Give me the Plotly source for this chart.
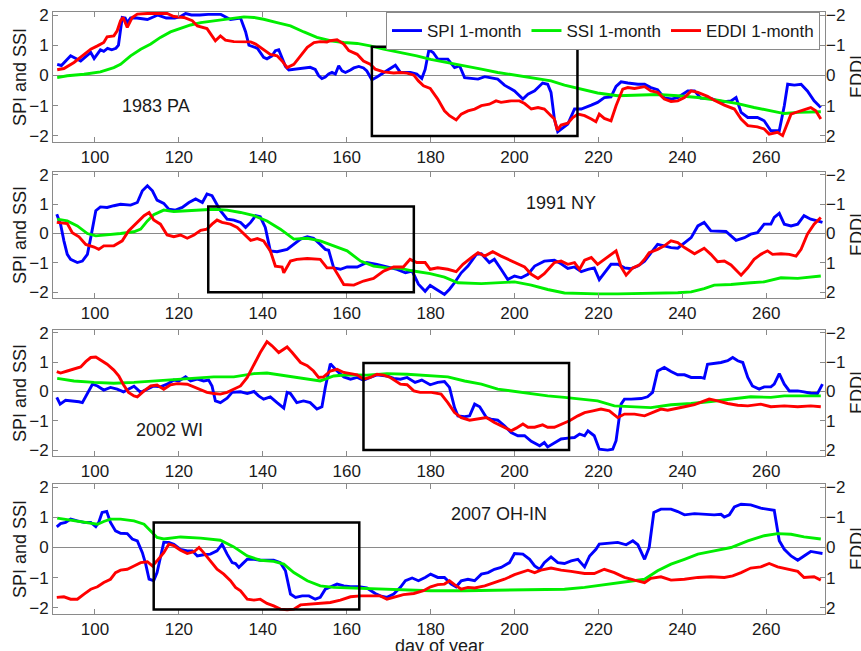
import plotly.graph_objects as go

# ---------------------------------------------------------------------------
# Drought-index series, (day of year, value). SPI and SSI read on the left
# axis; EDDI is in its own units and is drawn on a reversed right axis.
# ---------------------------------------------------------------------------

SPI_1983 = [(91,0.37),(92,0.33),(94.2,0.65),(95,0.6),(96.6,0.48),(99,0.76),(99.8,0.56),(101.3,0.85),(102.1,0.8),(103,0.9),(104,0.85),(105,0.9),(105.6,1.0),(106.5,1.92),(107.2,1.9),(107.7,1.75),(108.5,1.9),(110,1.9),(112.5,1.85),(115,2.0),(117,1.9),(119,1.9),(120.4,1.95),(121.6,2.05),(123,2.0),(125,2.0),(127,2.02),(130,2.02),(131.5,1.9),(132.3,1.85),(134.7,1.9),(135.9,1.45),(136.7,1.0),(137.9,0.95),(138.7,0.9),(140.2,0.6),(141,0.55),(142.2,0.65),(143,0.82),(143.8,0.85),(144.6,0.6),(145.4,0.3),(146.2,0.18),(147.4,0.2),(149,0.25),(151.3,0.27),(152.5,0.2),(153.3,0.0),(154.1,-0.1),(154.9,-0.05),(155.7,0.05),(156.5,0.1),(157.3,0.05),(158.1,0.32),(158.9,0.15),(159.7,0.1),(160.9,0.18),(161.7,0.25),(162.9,0.3),(164,0.25),(164.8,0.15),(166,-0.14),(167.2,-0.05),(168.8,0.1),(170,0.2),(171.6,0.34),(172.8,0.1),(175.2,0.1),(176.7,0.05),(177.9,-0.1),(178.7,0.2),(179.6,0.85),(180.6,0.76),(181.7,0.54),(184.1,0.54),(185.7,0.26),(186.9,0.32),(188.1,-0.07),(191.3,-0.12),(192.9,-0.04),(196,-0.12),(197.6,-0.32),(200,-0.51),(202,-0.78),(203.2,-0.62),(204.8,-0.51),(206.7,-0.25),(207.9,-0.29),(208.7,-0.56),(209.5,-1.44),(210.3,-1.86),(211.5,-1.72),(212.7,-1.61),(214.3,-1.11),(215.9,-1.11),(218.3,-0.98),(219.8,-0.89),(221.4,-0.73),(223,-0.71),(224.2,-0.36),(225.4,-0.21),(227,-0.25),(229.4,-0.29),(231,-0.29),(232.5,-0.4),(234.1,-0.47),(235.7,-0.74),(237.3,-0.78),(238.9,-0.73),(241.3,-0.51),(242.9,-0.51),(244.4,-0.75),(246.8,-0.76),(248.4,-0.84),(250,-0.87),(251.6,-0.84),(252.8,-0.73),(254,-1.22),(255.6,-1.39),(257.9,-1.39),(259.5,-1.5),(261.1,-1.83),(263.1,-1.83),(264.3,-1.0),(265.1,-0.29),(266.7,-0.32),(268.3,-0.29),(269.8,-0.51),(271.4,-0.84),(273,-1.06)]

SSI_1983 = [(91,-0.07),(93.4,-0.01),(97.4,0.04),(101.3,0.12),(104.5,0.26),(106.1,0.37),(108.5,0.65),(110.9,0.87),(113.3,1.04),(115.6,1.26),(118,1.44),(120.4,1.55),(122.8,1.67),(125.2,1.75),(128.3,1.81),(130.7,1.84),(133.1,1.91),(135.5,1.94),(137.9,1.92),(140.2,1.86),(143.4,1.75),(146.6,1.64),(149.8,1.44),(152.9,1.26),(156.1,1.15),(159.3,1.09),(162.5,1.06),(165.6,0.98),(168.8,0.87),(172.8,0.76),(176.7,0.65),(180,0.53),(184.1,0.43),(188.1,0.32),(192.1,0.21),(196,0.1),(200,0.01),(204,-0.09),(208.7,-0.18),(211.9,-0.32),(215.9,-0.45),(219.8,-0.58),(224.6,-0.67),(229.4,-0.65),(234.1,-0.63),(238.9,-0.67),(243.7,-0.73),(248.4,-0.82),(253.2,-0.93),(257.1,-1.06),(261.1,-1.17),(264.3,-1.26),(267.5,-1.22),(273,-1.2)]

EDDI_1983 = [(91,-0.19),(92.6,-0.23),(95,-0.43),(97.4,-0.7),(99,-0.87),(100.6,-0.98),(102.1,-1.09),(102.9,-1.28),(104.5,-1.31),(105.3,-1.48),(106.1,-1.81),(106.7,-1.92),(107.7,-1.59),(108.9,-1.92),(110.1,-2.03),(112.5,-2.05),(117.2,-2.05),(118.8,-1.95),(121.2,-1.92),(123.2,-1.81),(124.4,-1.64),(126.7,-1.55),(128.7,-1.15),(129.9,-1.31),(131.1,-1.17),(133.1,-1.12),(134.7,-1.12),(137.1,-1.11),(138.3,-1.04),(140.2,-0.87),(141.8,-0.7),(143.4,-0.65),(144.6,-0.48),(145.8,-0.26),(147.4,-0.37),(149,-0.65),(150.6,-0.93),(152.2,-1.09),(153.7,-1.12),(155.3,-1.11),(156.1,-1.15),(157.7,-1.18),(159.3,-1.04),(160.5,-0.82),(162.5,-0.7),(164,-0.48),(165.6,-0.37),(166.8,-0.21),(168.8,-0.12),(171.2,-0.08),(172.8,-0.1),(174.4,-0.08),(176,-0.01),(177.1,0.18),(178.3,0.34),(179.9,0.43),(181.7,0.78),(183.3,1.17),(184.5,1.33),(186.1,1.47),(187.3,1.28),(188.9,1.17),(190.5,1.11),(192.1,1.0),(194,0.95),(195.6,0.84),(196.8,0.89),(199.2,0.84),(201.2,0.84),(202.4,0.93),(204,1.11),(205.6,1.06),(207.1,1.11),(208.7,1.33),(209.5,1.44),(210.2,1.81),(211.1,1.64),(212.7,1.58),(213.9,1.39),(215.1,1.28),(216.7,1.33),(218.3,1.44),(219.4,1.53),(220.2,1.28),(221.4,1.42),(223,1.5),(224.2,1.0),(225.8,0.45),(227,0.4),(228.6,0.43),(231,0.37),(232.5,0.51),(234.1,0.56),(235.7,0.78),(237.3,0.86),(238.9,0.84),(240.5,0.73),(242.1,0.51),(243.7,0.56),(246,0.69),(247.6,0.82),(250,0.98),(252.4,1.11),(254,1.44),(255.6,1.66),(257.9,1.7),(259.5,1.77),(260.7,1.94),(262.7,1.88),(263.9,1.99),(265.9,1.28),(267.5,1.2),(270.6,1.06),(271.8,1.17),(273,1.44)]

SPI_1991 = [(90.9,0.66),(91.8,0.32),(92.6,-0.25),(93.4,-0.71),(94.2,-0.88),(95.8,-0.99),(97,-0.94),(98.2,-0.71),(99,-0.14),(100.2,0.78),(101.3,0.91),(102.9,0.89),(104.5,0.95),(106.1,1.0),(108.5,0.97),(110.1,1.06),(111.3,1.46),(112.5,1.63),(113.7,1.46),(114.8,1.14),(116.4,1.03),(117.6,0.83),(119.2,0.8),(120.8,0.89),(122.4,1.06),(124,1.18),(125.6,1.06),(126.7,1.35),(127.9,1.29),(129.1,1.0),(129.9,0.78),(131.5,0.49),(133.1,0.46),(134.7,0.38),(135.9,0.21),(137.1,0.38),(138.3,0.61),(139.4,0.57),(140.6,0.21),(141.8,-0.59),(143.4,-0.62),(145.8,-0.54),(147.4,-0.37),(149,-0.19),(150.6,-0.11),(152.1,-0.16),(153.7,-0.37),(154.9,-0.54),(155.7,-0.57),(156.9,-1.17),(158.5,-1.22),(160.1,-1.14),(162.5,-1.14),(164.8,-0.99),(167.2,-1.05),(169.6,-1.14),(172,-1.22),(174,-1.34),(175.6,-1.28),(177.1,-1.73),(178.7,-1.97),(179.9,-1.77),(181.7,-1.92),(183.3,-2.08),(184.5,-1.9),(185.7,-1.68),(187.3,-1.34),(188.9,-1.11),(190.9,-0.71),(192.1,-0.69),(194,-0.99),(195.2,-0.88),(196.8,-1.22),(198.4,-1.57),(200,-1.45),(201.6,-1.51),(203.2,-1.39),(204.8,-1.11),(207.1,-0.94),(209.5,-0.91),(211.1,-1.03),(212.7,-1.19),(214.3,-1.14),(215.9,-1.3),(217.5,-1.22),(219,-1.17),(220.2,-1.57),(221.4,-1.34),(223,-1.05),(224.6,-1.05),(226.2,-1.17),(227.8,-1.2),(229.4,-1.11),(231,-0.94),(232.5,-0.65),(234.1,-0.37),(235.7,-0.42),(237.3,-0.48),(238.9,-0.5),(240.5,-0.31),(242.1,-0.14),(243.7,0.26),(245.2,0.38),(246.8,0.09),(248.4,0.07),(250.4,0.07),(251.6,-0.08),(252.8,-0.23),(254.8,-0.14),(256.3,-0.02),(257.9,0.03),(259.5,0.32),(261.1,0.32),(261.9,0.55),(263.1,0.69),(264.3,0.32),(265.9,0.26),(267.5,0.32),(269,0.61),(270.6,0.49),(272.2,0.43),(273.4,0.38)]

SSI_1991 = [(91,0.49),(93.4,0.43),(95.8,0.26),(98.2,0.0),(100.2,-0.08),(102.9,-0.05),(106.1,0.0),(109.3,0.06),(110.9,0.15),(112.5,0.43),(114,0.64),(116.4,0.8),(118.8,0.75),(122,0.78),(125.2,0.8),(128.3,0.83),(131.5,0.8),(134.7,0.72),(137.9,0.61),(141,0.43),(144.2,0.15),(147.4,-0.19),(150.6,-0.16),(153.7,-0.25),(156.9,-0.42),(160.1,-0.59),(163.3,-0.94),(166.4,-1.11),(169.6,-1.17),(172.8,-1.19),(175.9,-1.28),(179.9,-1.37),(183.3,-1.49),(186.5,-1.68),(192.1,-1.71),(196,-1.68),(200,-1.65),(204,-1.76),(207.9,-1.91),(211.9,-2.03),(215.9,-2.05),(219.8,-2.06),(224.6,-2.06),(229.4,-2.05),(234.1,-2.03),(238.9,-2.02),(242.1,-1.99),(245.2,-1.88),(247.6,-1.76),(251.6,-1.74),(256.3,-1.68),(259.5,-1.65),(263.5,-1.51),(267.5,-1.53),(273,-1.45)]

EDDI_1991 = [(90.9,-0.38),(93.4,-0.34),(94.6,-0.03),(96.2,0.11),(97.8,0.37),(99.8,0.46),(100.9,0.54),(102.1,0.42),(104.5,0.42),(106.5,0.25),(108,-0.09),(110.1,-0.38),(111.7,-0.61),(112.9,-0.72),(114,-0.46),(115.6,-0.32),(117.2,0.05),(118.8,0.11),(120.4,0.05),(122,0.16),(123.6,0.05),(125.2,-0.11),(126.7,-0.15),(127.9,-0.32),(129.1,-0.46),(130.3,-0.38),(132.3,-0.32),(133.9,-0.21),(135.5,0.02),(137.1,0.23),(138.7,0.17),(140.2,0.25),(141.8,0.59),(143,1.11),(144.6,1.14),(145,1.34),(146.6,0.94),(148.1,0.88),(150.6,0.85),(152.5,0.88),(153.7,0.88),(155.3,1.17),(156.9,1.17),(158.1,1.45),(159.3,1.74),(161.7,1.76),(164,1.62),(166.4,1.53),(168.8,1.28),(171.2,1.14),(173.5,1.14),(175.1,0.88),(176.7,0.99),(178.7,0.99),(179.9,1.22),(181.7,1.17),(184.1,1.22),(186.1,1.3),(187.7,1.05),(189.7,0.82),(191.3,0.65),(192.9,0.77),(194.8,0.62),(196.8,0.77),(199.2,0.94),(200.8,1.05),(202.4,1.14),(204,1.39),(205.6,1.53),(207.1,1.37),(209.5,0.99),(211.1,0.94),(212.7,1.05),(214.3,0.99),(215.5,1.22),(216.7,0.91),(218.3,0.82),(219.8,1.05),(221.4,0.88),(223,0.71),(224.2,0.59),(225.4,1.14),(226.6,1.42),(228.2,1.17),(229.8,1.07),(231,0.88),(232.1,0.65),(234.1,0.54),(235.7,0.42),(237.3,0.25),(238.9,0.31),(240.5,0.48),(242.9,0.69),(245.2,0.5),(246.8,0.71),(248.4,0.96),(250,0.94),(251.6,1.07),(254,1.42),(255.6,1.17),(257.1,0.88),(258.7,0.71),(260.3,0.59),(261.5,0.71),(263.5,0.69),(265.5,0.71),(267.1,0.77),(268.3,0.54),(269.8,0.02),(271.4,-0.32),(273,-0.55)]

SPI_2002 = [(90.9,-0.2),(91.7,-0.43),(93,-0.3),(94.6,-0.32),(96.2,-0.35),(97,-0.38),(98.2,-0.07),(99.4,0.25),(100.6,0.19),(102.1,0.05),(103.7,0.14),(105.3,0.08),(106.8,-0.01),(108,0.08),(109.3,0.18),(110.9,-0.03),(112.5,0.08),(114,0.19),(115.6,0.16),(117.2,0.25),(118.8,0.39),(120,0.36),(121.6,0.5),(122.8,0.36),(124.4,0.42),(125.9,0.36),(127.1,0.39),(127.9,0.19),(128.7,-0.32),(129.9,-0.38),(131.5,-0.23),(132.7,-0.03),(134.7,-0.01),(136.3,-0.07),(137.9,0.0),(139,-0.15),(140.2,-0.26),(141.8,-0.18),(143.4,-0.38),(145,-0.57),(145.8,-0.03),(146.6,-0.07),(148.1,-0.38),(149.7,-0.32),(151.3,-0.38),(152.9,-0.6),(154.1,-0.52),(154.9,0.14),(156.1,0.95),(157.7,0.7),(159.3,0.5),(160.9,0.42),(162.5,0.48),(164,0.39),(165.6,0.48),(167.2,0.57),(169.6,0.53),(171.2,0.45),(172.8,0.42),(174.4,0.48),(176.3,0.31),(177.9,0.39),(179.9,0.23),(181.7,0.31),(183.3,0.34),(184.5,0.14),(185.7,-0.55),(186.5,-0.83),(188.1,-0.86),(189.3,-0.83),(190.5,-0.43),(191.7,-0.52),(193.3,-0.89),(194.4,-0.94),(196,-0.98),(197.6,-1.17),(199.2,-1.4),(200.8,-1.51),(202.4,-1.51),(204,-1.7),(206,-1.85),(207.1,-1.74),(207.9,-1.89),(209.5,-1.74),(211.1,-1.62),(212.7,-1.59),(214.3,-1.57),(215.5,-1.45),(216.7,-1.51),(217.5,-1.34),(219,-1.51),(220.2,-1.97),(222.2,-2.0),(223.4,-1.97),(224.2,-1.68),(225.4,-0.43),(226.2,-0.26),(227.8,-0.26),(230.2,-0.24),(231.7,-0.18),(232.9,-0.03),(234.1,0.7),(235.7,0.82),(237.3,0.68),(238.9,0.57),(240.5,0.57),(242.1,0.48),(244.4,0.48),(245.2,0.45),(246,0.93),(247.6,0.95),(249.2,0.99),(250.8,1.05),(252,1.16),(253.2,1.05),(254.4,0.99),(255.6,0.48),(256.7,0.19),(258.3,0.08),(259.5,0.16),(261.1,0.16),(261.9,0.25),(263.1,0.61),(264.3,0.25),(265.5,0.02),(267.5,0.02),(269,-0.01),(270.6,-0.06),(272.2,-0.07),(273.4,0.25)]

SSI_2002 = [(91,0.45),(95,0.36),(99.8,0.31),(104.5,0.28),(109.3,0.31),(114,0.36),(118.8,0.42),(123.6,0.45),(128.3,0.5),(133.1,0.5),(137.9,0.61),(141,0.63),(145.8,0.53),(150.6,0.45),(153.7,0.36),(156.9,0.53),(160.1,0.57),(164.8,0.56),(169.6,0.61),(174.4,0.59),(180,0.53),(184.1,0.5),(188.1,0.36),(192.1,0.25),(196,0.08),(200,0.0),(204,-0.07),(207.9,-0.15),(211.9,-0.2),(215.9,-0.26),(219.8,-0.32),(223.8,-0.49),(227.8,-0.52),(232.5,-0.55),(237.3,-0.45),(242.1,-0.41),(246.8,-0.34),(251.6,-0.26),(256.3,-0.18),(261.1,-0.2),(264.3,-0.15),(269,-0.15),(273,-0.15)]

EDDI_2002 = [(90.9,-0.68),(91.8,-0.63),(93.4,-0.7),(95,-0.76),(96.6,-0.84),(97.8,-1.02),(99,-1.16),(100.2,-1.18),(101.3,-1.07),(102.9,-0.93),(104.5,-0.73),(105.7,-0.53),(106.8,-0.23),(108,0.03),(109.3,0.15),(110.1,0.18),(111.7,-0.02),(113.3,-0.19),(114.8,-0.22),(116.4,-0.08),(118,-0.23),(119.6,-0.27),(122,-0.25),(123.6,-0.16),(125.2,-0.05),(126.7,0.03),(128.3,0.07),(129.9,0.09),(131.5,0.03),(133.1,-0.08),(134.7,-0.19),(136.3,-0.48),(137.9,-0.93),(139.4,-1.33),(141,-1.7),(142.2,-1.56),(143.8,-1.33),(145,-1.44),(145.8,-1.52),(147,-1.33),(149,-0.99),(150.6,-0.88),(152.1,-0.7),(153.3,-0.48),(154.5,-0.5),(156.1,-0.7),(157.7,-0.76),(159.3,-0.65),(160.9,-0.61),(162.5,-0.57),(164,-0.42),(165.6,-0.48),(167.2,-0.59),(168.8,-0.56),(170.4,-0.48),(172.8,-0.25),(174.4,-0.23),(176,-0.02),(177.5,0.03),(180.2,0.03),(182.5,0.09),(184.1,0.38),(185.7,0.72),(187.3,0.89),(189.3,0.98),(191.3,0.94),(193.3,0.89),(195.2,1.06),(196.8,1.17),(199.2,1.34),(200.4,1.25),(202,1.11),(203.2,1.22),(204.8,1.22),(206.7,1.14),(207.9,1.22),(209.5,1.22),(211.5,1.11),(213.1,1.0),(215.1,0.83),(216.7,0.72),(218.7,0.66),(220.6,0.6),(222.6,0.66),(224.6,0.89),(226.2,0.77),(228.6,0.77),(231,0.83),(232.5,0.75),(234.9,0.6),(236.5,0.64),(238.5,0.57),(240.5,0.52),(242.9,0.45),(245.2,0.32),(246.4,0.26),(248.4,0.32),(250.8,0.41),(253.2,0.47),(255.6,0.49),(258.7,0.43),(261.1,0.52),(264.3,0.49),(267.5,0.52),(270.6,0.49),(273,0.52)]

SPI_2007 = [(90.9,0.68),(91.8,0.79),(93,0.83),(94.2,0.94),(95.8,0.88),(97.4,0.83),(99,0.83),(100.2,0.69),(100.9,0.83),(101.7,1.16),(102.8,1.19),(103.7,0.83),(104.9,0.55),(106.1,0.47),(107.7,0.46),(108.9,0.28),(110.1,0.22),(111.3,-0.17),(112.1,-0.55),(112.9,-1.05),(114,-1.1),(114.8,-0.83),(115.6,-0.33),(116.4,0.17),(117.6,0.17),(118.8,0.11),(120.4,-0.06),(122,-0.11),(123.2,-0.11),(124.4,-0.28),(125.9,-0.24),(127.5,-0.22),(129.1,-0.11),(130.3,0.11),(131.5,-0.22),(132.7,-0.5),(133.5,-0.53),(134.3,-0.66),(135.1,-0.55),(136.3,-0.39),(137.9,-0.39),(139.4,-0.42),(141,-0.42),(142.6,-0.42),(144.2,-0.5),(145.4,-0.77),(146.6,-1.54),(147.8,-1.65),(149.4,-1.6),(151,-1.6),(152.5,-1.71),(153.7,-1.65),(154.9,-1.38),(156.1,-1.3),(157.7,-1.21),(159.3,-1.27),(160.9,-1.3),(162.9,-1.3),(164.8,-1.34),(166.8,-1.52),(168,-1.6),(169.6,-1.65),(171.2,-1.54),(172.8,-1.32),(174,-1.1),(175.6,-1.01),(177.1,-1.1),(178.7,-0.99),(180,-0.88),(181.7,-0.99),(183.3,-0.99),(184.9,-1.21),(186.1,-1.3),(187.3,-1.1),(188.9,-1.05),(190.5,-1.1),(192.1,-0.88),(193.7,-0.83),(195.2,-0.72),(196.8,-0.66),(198.8,-0.5),(200,-0.2),(202,-0.22),(203.6,-0.39),(204.8,-0.61),(206,-0.72),(207.1,-0.5),(208.7,-0.31),(210.3,-0.5),(211.9,-0.53),(213.5,-0.44),(215.1,-0.39),(216.7,-0.64),(217.9,-0.28),(219.4,-0.06),(220.2,0.11),(222.2,0.13),(224.6,0.17),(226.6,0.09),(228.2,0.22),(229.4,0.09),(231,-0.39),(232.1,0.0),(233.2,1.16),(234.9,1.27),(237.3,1.27),(238.9,1.19),(240.5,1.08),(242.9,1.12),(245.2,1.1),(247.6,1.08),(249.2,1.1),(250,1.01),(251.2,1.08),(252.4,1.34),(254,1.43),(256.3,1.41),(258.7,1.3),(260.3,1.27),(261.9,1.23),(263.1,0.22),(264.3,-0.06),(265.9,-0.28),(267.5,-0.42),(269,-0.28),(270.6,-0.13),(272.2,-0.17),(273.4,-0.2)]

SSI_2007 = [(91,0.97),(95,0.88),(98.2,0.83),(100.6,0.77),(102.1,0.86),(103.7,0.94),(106.1,0.94),(109.3,0.88),(111.7,0.77),(113.3,0.55),(114.8,0.33),(116.4,0.28),(120.4,0.35),(125.2,0.31),(129.9,0.24),(133.1,0.02),(136.3,-0.28),(139.4,-0.42),(142.6,-0.46),(145,-0.55),(147.4,-0.83),(150.6,-1.1),(153.7,-1.27),(156.9,-1.32),(161.7,-1.34),(166.4,-1.35),(171.2,-1.38),(176,-1.41),(180,-1.43),(188.1,-1.43),(196,-1.41),(204,-1.41),(211.9,-1.38),(216.7,-1.32),(221.4,-1.23),(226.2,-1.16),(231,-1.05),(234.1,-0.77),(237.3,-0.55),(240.5,-0.39),(243.7,-0.22),(247.6,-0.11),(251.6,0.0),(255.6,0.22),(259.5,0.39),(262.7,0.46),(265.9,0.44),(269,0.35),(273,0.28)]

EDDI_2007 = [(90.9,1.65),(92.6,1.63),(94.2,1.71),(95.8,1.71),(97.4,1.54),(99,1.38),(100.6,1.3),(102.1,1.16),(103.7,1.05),(104.9,0.83),(106.1,0.75),(107.7,0.72),(109.3,0.61),(110.9,0.5),(112.5,0.47),(113.7,0.61),(114.8,0.44),(116.4,0.17),(117.6,-0.11),(118.8,-0.06),(120.4,0.09),(122,0.2),(123.6,0.14),(124.8,0.0),(125.9,0.17),(127.5,0.44),(129.1,0.72),(130.7,0.88),(132.3,1.1),(133.5,1.32),(134.7,1.43),(136.3,1.71),(137.9,1.74),(139.4,1.71),(141,1.85),(142.6,1.93),(144.2,2.04),(145.8,2.06),(147.4,2.04),(149,1.9),(151.3,1.87),(153.7,1.84),(156.1,1.82),(158.5,1.74),(160.9,1.63),(163.3,1.6),(165.6,1.6),(168,1.6),(169.6,1.71),(171.6,1.63),(173.5,1.56),(176,1.52),(178.3,1.43),(180,1.3),(181.7,1.23),(183.3,1.21),(184.5,1.1),(185.7,1.23),(187.3,1.38),(188.9,1.32),(190.5,1.34),(192.9,1.27),(195.2,1.16),(197.6,1.05),(200,0.9),(201.6,0.83),(203.2,0.75),(204.8,0.83),(206.3,0.75),(208.7,0.68),(211.1,0.75),(213.5,0.79),(216.7,0.86),(219,0.86),(221.4,0.72),(223.8,0.83),(226.2,0.99),(228.6,1.08),(231,1.16),(232.5,1.02),(234.9,0.97),(237.3,1.08),(240.5,1.05),(243.7,0.99),(246.8,0.97),(250,0.99),(252,0.94),(254,0.83),(256.3,0.68),(258.7,0.64),(260.7,0.53),(262.7,0.64),(265.1,0.72),(267.5,0.79),(269,0.99),(271.4,0.97),(273,1.08)]

EVENT_LABELS = ["1983 PA", "1991 NY", "2002 WI", "2007 OH-IN"]
EVENT_LABEL_DAY = [114.5, 211, 117.8, 196.4]
EVENT_LABEL_VALUE = [-1.0, 1.05, -1.3, 1.1]

# flash-drought window marked on each panel (days, SPI/SSI units)
WINDOW_START = [166, 127, 164, 114]
WINDOW_END = [215, 176, 213, 163]
WINDOW_TOP = [0.95, 0.92, 0.97, 0.83]
WINDOW_BOTTOM = [-2.0, -2.0, -2.0, -2.05]

X_TICKS = [100, 120, 140, 160, 180, 200, 220, 240, 260]
Y_TICKS = [-2, -1, 0, 1, 2]

panels = [
    (SPI_1983, SSI_1983, EDDI_1983),
    (SPI_1991, SSI_1991, EDDI_1991),
    (SPI_2002, SSI_2002, EDDI_2002),
    (SPI_2007, SSI_2007, EDDI_2007),
]

# ---------------------------------------------------------------------------
FONT = "Arial, Liberation Sans, sans-serif"
TXT = "#1a1a1a"
AX = "#8a8a8a"
BLUE, GREEN, RED = "#0000ff", "#00ee00", "#ff0000"
LW = 2.9
TICK_SIZE = 17
TEXT_SIZE = 18
LEGEND_SIZE = 17

# vertical placement of the four panels (paper fractions)
domains = [[0.7841, 1.0], [0.5249, 0.7342], [0.2625, 0.4718], [0.0, 0.2159]]

fig = go.Figure()
layout = dict(
    width=861, height=651,
    margin=dict(l=53, r=36, t=12, b=37, autoexpand=False),
    paper_bgcolor="white", plot_bgcolor="white",
    font=dict(family=FONT, size=TEXT_SIZE, color=TXT),
    showlegend=True,
    legend=dict(
        orientation="h", x=0.9935, y=1.0, xanchor="right", yanchor="top",
        bgcolor="white", bordercolor=AX, borderwidth=1,
        font=dict(family=FONT, size=LEGEND_SIZE, color=TXT),
        itemwidth=30, tracegroupgap=0, traceorder="normal",
    ),
    shapes=[], annotations=[],
)

for i, (spi, ssi, eddi) in enumerate(panels):
    n = i + 1
    xa = "x" if n == 1 else f"x{n}"
    yl_id = 2 * i + 1
    yr_id = 2 * i + 2
    yl = "y" if yl_id == 1 else f"y{yl_id}"
    yr = f"y{yr_id}"
    first = i == 0

    fig.add_trace(go.Scatter(
        x=[d for d, _ in spi], y=[v for _, v in spi], mode="lines",
        line=dict(color=BLUE, width=LW), name="SPI 1-month",
        showlegend=first, xaxis=xa, yaxis=yl))
    fig.add_trace(go.Scatter(
        x=[d for d, _ in ssi], y=[v for _, v in ssi], mode="lines",
        line=dict(color=GREEN, width=LW), name="SSI 1-month",
        showlegend=first, xaxis=xa, yaxis=yl))
    fig.add_trace(go.Scatter(
        x=[d for d, _ in eddi], y=[v for _, v in eddi], mode="lines",
        line=dict(color=RED, width=LW), name="EDDI 1-month",
        showlegend=first, xaxis=xa, yaxis=yr))

    xkey = "xaxis" if n == 1 else f"xaxis{n}"
    ylkey = "yaxis" if yl_id == 1 else f"yaxis{yl_id}"
    yrkey = f"yaxis{yr_id}"

    layout[xkey] = dict(
        domain=[0, 1], anchor=yl, range=[90, 274],
        tickvals=X_TICKS, ticks="inside", ticklen=5, tickcolor=AX,
        showline=True, linecolor=AX, linewidth=1, mirror="ticks",
        showgrid=False, zeroline=False,
        tickfont=dict(family=FONT, size=TICK_SIZE, color=TXT),
    )
    layout[ylkey] = dict(
        domain=domains[i], anchor=xa, range=[-2.2, 2.1],
        tickvals=Y_TICKS, ticks="inside", ticklen=5, tickcolor=AX,
        showline=True, linecolor=AX, linewidth=1, mirror=True,
        showgrid=False, zeroline=True, zerolinecolor=AX, zerolinewidth=1,
        tickfont=dict(family=FONT, size=TICK_SIZE, color=TXT),
    )
    layout[yrkey] = dict(
        domain=domains[i], anchor=xa, overlaying=yl, side="right",
        range=[2.2, -2.1], tickvals=Y_TICKS, ticks="inside", ticklen=5,
        tickcolor=AX, showline=False, showgrid=False, zeroline=False,
        tickfont=dict(family=FONT, size=TICK_SIZE, color=TXT),
    )

    layout["shapes"].append(dict(
        type="rect", xref=xa, yref=yl,
        x0=WINDOW_START[i], x1=WINDOW_END[i],
        y0=WINDOW_BOTTOM[i], y1=WINDOW_TOP[i],
        line=dict(color="black", width=2.5), fillcolor="rgba(0,0,0,0)",
        layer="above",
    ))

    layout["annotations"].append(dict(
        text=EVENT_LABELS[i], xref=xa, yref=yl,
        x=EVENT_LABEL_DAY[i], y=EVENT_LABEL_VALUE[i],
        xanchor="center", yanchor="middle",
        showarrow=False, font=dict(family=FONT, size=TEXT_SIZE, color=TXT),
    ))

    ymid = sum(domains[i]) / 2
    layout["annotations"].append(dict(
        text="SPI and SSI", xref="paper", yref="paper", x=0, y=ymid,
        xshift=-33, xanchor="center", yanchor="middle", textangle=-90,
        showarrow=False, font=dict(family=FONT, size=TEXT_SIZE, color=TXT),
    ))
    layout["annotations"].append(dict(
        text="EDDI", xref="paper", yref="paper", x=1, y=ymid,
        xshift=32, xanchor="center", yanchor="middle", textangle=-90,
        showarrow=False, font=dict(family=FONT, size=TEXT_SIZE, color=TXT),
    ))

layout["annotations"].append(dict(
    text="day of year", xref="paper", yref="paper", x=0.5, y=0,
    yshift=-32, xanchor="center", yanchor="middle",
    showarrow=False, font=dict(family=FONT, size=TEXT_SIZE, color=TXT),
))

fig.update_layout(**layout)
fig.write_html("out.html")
